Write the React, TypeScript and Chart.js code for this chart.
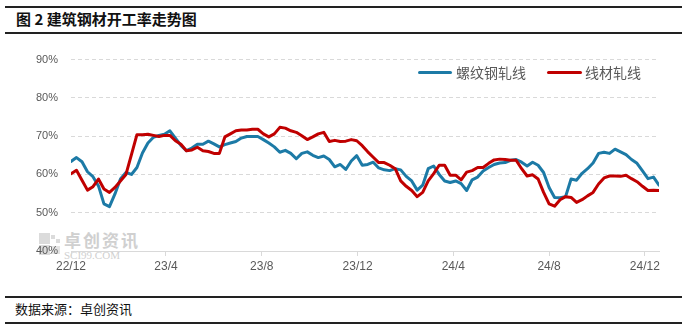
import React, { useEffect, useRef } from 'react';
import { Chart, registerables } from 'chart.js';

Chart.register(...registerables);

// Weekly observations starting from this date (one per week)
const START_DATE = '2022-12-01';

// 螺纹钢轧线 开工率 (%)
const rebar = [
  63.4, 64.4, 63.3, 60.7, 59.4, 57.0, 52.3, 51.6, 54.9, 58.8,
  60.5, 60.0, 61.8, 65.6, 68.2, 69.7, 70.2, 70.5, 71.4, 69.5,
  67.6, 66.2, 66.9, 67.9, 67.9, 68.7, 68.0, 67.2, 67.8, 68.2,
  68.6, 69.5, 69.9, 69.9, 69.9, 69.1, 68.2, 67.2, 65.8, 66.3,
  65.5, 64.1, 65.5, 65.9, 65.0, 64.4, 64.8, 63.9, 62.0, 62.6,
  61.3, 63.5, 64.9, 62.4, 62.6, 63.2, 61.7, 61.2, 61.0, 61.5,
  61.2, 59.5, 58.3, 55.9, 57.2, 61.5, 62.2, 60.0, 58.3, 57.9,
  58.3, 57.6, 55.8, 58.6, 59.3, 60.9, 61.8, 62.6, 63.0, 63.1,
  63.7, 63.9, 63.2, 62.2, 63.2, 62.4, 60.5, 56.6, 54.0, 53.9,
  54.2, 58.8, 58.5, 60.3, 61.5, 63.0, 65.5, 65.8, 65.5, 66.6,
  65.9, 65.2, 63.9, 62.9, 60.9, 58.9, 59.3, 57.2,
];

// 线材轧线 开工率 (%)
const wireRod = [
  60.2, 61.1, 58.5, 55.9, 56.8, 58.8, 56.2, 55.3, 56.6, 58.3,
  60.0, 65.2, 70.4, 70.4, 70.5, 70.2, 69.9, 70.2, 70.2, 68.8,
  67.9, 66.2, 66.4, 67.1, 66.2, 66.0, 65.5, 65.5, 69.8, 70.6,
  71.4, 71.6, 71.6, 71.8, 71.8, 70.6, 69.8, 70.6, 72.3, 72.1,
  71.4, 71.0, 70.1, 69.1, 69.8, 70.6, 71.0, 68.6, 68.9, 68.6,
  68.7, 69.1, 68.8, 67.5, 65.9, 64.5, 63.1, 63.1, 62.4, 61.5,
  58.3, 56.9, 55.8, 54.2, 55.3, 58.3, 60.2, 62.4, 62.4, 59.8,
  59.8, 58.6, 60.6, 61.0, 61.8, 61.8, 62.9, 63.8, 64.0, 63.9,
  63.7, 63.7, 61.5, 59.6, 59.9, 58.8, 55.3, 52.3, 51.7, 53.4,
  54.2, 54.0, 52.7, 53.4, 54.4, 55.3, 57.5, 59.1, 59.6, 59.6,
  59.5, 59.8, 58.9, 58.1, 56.9, 55.8, 55.9, 55.8,
];

const tickDates = ['2022-12-01', '2023-04-01', '2023-08-01', '2023-12-01', '2024-04-01', '2024-08-01', '2024-12-01'];
const tickLabels = ['22/12', '23/4', '23/8', '23/12', '24/4', '24/8', '24/12'];
const yTicks = [40, 50, 60, 70, 80, 90];

const seriesNames = ['螺纹钢轧线', '线材轧线'];
const seriesColors = ['#1c7aa6', '#c00000'];

const DAY = 86400000;
const dayOffset = (d: string) => Math.round((Date.parse(d) - Date.parse(START_DATE)) / DAY);
const weekDays = rebar.map((_, i) => i * 7);

const TEXT_GRAY = '#595959';
const GRID = '#d9d9d9';
const CJK = '"Noto Sans CJK SC", "Noto Sans", sans-serif';
const LATIN = '"Liberation Sans", Arial, sans-serif';

function ChartCanvas() {
  const ref = useRef<HTMLCanvasElement | null>(null);
  useEffect(() => {
    if (!ref.current) return;
    const chart = new Chart(ref.current, {
      type: 'line',
      data: {
        datasets: [
          {
            label: seriesNames[0],
            data: rebar.map((v, i) => ({ x: weekDays[i], y: v })),
            borderColor: seriesColors[0],
            borderWidth: 3,
            pointRadius: 0,
            tension: 0,
            borderJoinStyle: 'round',
            borderCapStyle: 'round',
            order: 1,
          },
          {
            label: seriesNames[1],
            data: wireRod.map((v, i) => ({ x: weekDays[i], y: v })),
            borderColor: seriesColors[1],
            borderWidth: 3,
            pointRadius: 0,
            tension: 0,
            borderJoinStyle: 'round',
            borderCapStyle: 'round',
            order: 0,
          },
        ],
      },
      options: {
        animation: false,
        responsive: false,
        maintainAspectRatio: false,
        layout: { padding: { left: 0, right: 28, top: 18, bottom: 0 } },
        plugins: { legend: { display: false }, tooltip: { enabled: false } },
        scales: {
          x: {
            type: 'linear',
            min: 0,
            max: weekDays[weekDays.length - 1],
            afterBuildTicks: (s: any) => {
              s.ticks = tickDates.map((d) => ({ value: dayOffset(d) }));
            },
            afterFit: (s: any) => {
              s.height = 39;
            },
            ticks: {
              autoSkip: false,
              maxRotation: 0,
              padding: 3,
              color: TEXT_GRAY,
              font: { family: LATIN, size: 12 },
              callback: (_v: any, idx: number) => tickLabels[idx] ?? '',
            },
            grid: { drawOnChartArea: false, drawTicks: true, tickLength: 5, color: GRID },
            border: { display: true, color: GRID, width: 1 },
          },
          y: {
            min: 40,
            max: 90,
            afterBuildTicks: (s: any) => {
              s.ticks = yTicks.map((v) => ({ value: v }));
            },
            afterFit: (s: any) => {
              s.width = 71;
            },
            ticks: {
              padding: 13,
              color: TEXT_GRAY,
              font: { family: LATIN, size: 11 },
              callback: (v: any) => v + '%',
            },
            grid: { color: GRID, drawTicks: false, lineWidth: 1 },
            border: { display: false, dash: [4, 3] },
          },
        },
      },
    } as any);
    return () => chart.destroy();
  }, []);
  return (
    <canvas
      ref={ref}
      width={687}
      height={250}
      style={{ position: 'absolute', left: 0, top: 40, width: 687, height: 250, display: 'block' }}
    />
  );
}

export default function App() {
  return (
    <div
      style={{
        position: 'fixed',
        left: 0,
        top: 0,
        width: 687,
        height: 329,
        background: '#ffffff',
        overflow: 'hidden',
        fontFamily: CJK,
      }}
    >
      {/* header rules + title */}
      <div style={{ position: 'absolute', left: 5, top: 6, width: 677, height: 1.5, background: '#222' }} />
      <div
        style={{
          position: 'absolute',
          left: 16,
          top: 8,
          fontSize: 15,
          fontWeight: 700,
          color: '#111',
          lineHeight: '22px',
          whiteSpace: 'nowrap',
        }}
      >
        图 2 建筑钢材开工率走势图
      </div>
      <div style={{ position: 'absolute', left: 5, top: 32, width: 677, height: 2, background: '#222' }} />

      {/* watermark */}
      <div style={{ position: 'absolute', left: 39, top: 233, width: 22, height: 22, opacity: 0.35 }}>
        <div style={{ position: 'absolute', left: 0, top: 0, width: 11, height: 11, background: '#9a9a9a' }} />
        <div style={{ position: 'absolute', left: 12, top: 2, width: 4, height: 4, background: '#9a9a9a' }} />
        <div style={{ position: 'absolute', left: 17, top: 6, width: 4, height: 4, background: '#9a9a9a' }} />
        <div style={{ position: 'absolute', left: 0, top: 12, width: 11, height: 10, background: '#9a9a9a' }} />
        <div style={{ position: 'absolute', left: 13, top: 13, width: 8, height: 8, background: '#b5b5b5' }} />
      </div>
      <div
        style={{
          position: 'absolute',
          left: 64,
          top: 229,
          fontSize: 17,
          fontWeight: 700,
          color: '#d0d0d0',
          lineHeight: '22px',
          letterSpacing: 2,
          whiteSpace: 'nowrap',
        }}
      >
        卓创资讯
      </div>
      <div
        style={{
          position: 'absolute',
          left: 64,
          top: 249,
          fontSize: 11,
          color: '#d0d0d0',
          fontFamily: '"Liberation Serif", serif',
          lineHeight: '12px',
          whiteSpace: 'nowrap',
        }}
      >
        SCI99.COM
      </div>

      <ChartCanvas />

      {/* legend */}
      <div style={{ position: 'absolute', left: 418, top: 71, width: 34, height: 3, background: seriesColors[0], borderRadius: 1.5 }} />
      <div
        style={{ position: 'absolute', left: 456, top: 63, fontSize: 14, color: TEXT_GRAY, lineHeight: '18px', whiteSpace: 'nowrap' }}
      >
        {seriesNames[0]}
      </div>
      <div style={{ position: 'absolute', left: 547, top: 71, width: 35, height: 3, background: seriesColors[1], borderRadius: 1.5 }} />
      <div
        style={{ position: 'absolute', left: 585, top: 63, fontSize: 14, color: TEXT_GRAY, lineHeight: '18px', whiteSpace: 'nowrap' }}
      >
        {seriesNames[1]}
      </div>

      {/* footer */}
      <div style={{ position: 'absolute', left: 5, top: 296, width: 677, height: 2, background: '#222' }} />
      <div
        style={{ position: 'absolute', left: 15, top: 300, fontSize: 13, color: '#111', lineHeight: '18px', whiteSpace: 'nowrap' }}
      >
        数据来源：卓创资讯
      </div>
      <div style={{ position: 'absolute', left: 5, top: 322, width: 677, height: 1.5, background: '#222' }} />
    </div>
  );
}
